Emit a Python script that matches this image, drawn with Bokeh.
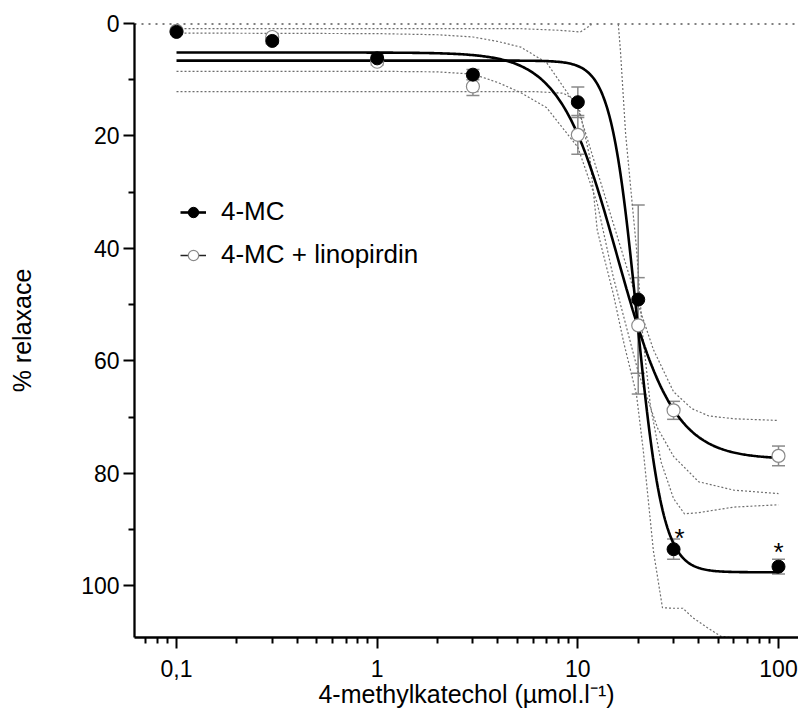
import numpy as np
from bokeh.plotting import figure
from bokeh.models import (Range1d, FixedTicker, ColumnDataSource, Whisker, TeeHead,
                          Legend, LegendItem, Span)
from bokeh.embed import file_html
from bokeh.resources import INLINE
from bokeh.core.properties import value

# ---------------- data ----------------
conc = [0.1, 0.3, 1, 3, 10, 20, 30, 100]
mc_mean = [1.5, 3.1, 6.2, 9.1, 14.0, 49.1, 93.5, 96.6]
mc_sem = [0.4, 0.5, 0.6, 0.9, 2.7, 16.8, 1.8, 1.3]
lin_mean = [1.3, 2.4, 6.8, 11.2, 19.8, 53.7, 68.8, 76.9]
lin_sem = [0.4, 0.5, 0.6, 1.6, 3.45, 8.5, 1.6, 1.75]

# four-parameter logistic fits: bottom, top, logEC50, Hill slope
mc_fit = [6.6, 97.6, 1.294, 6.7]
lin_fit = [5.16, 77.5, 1.196, 3.05]

# dotted 95 % confidence bands (traced)
mc_band_lo_x = [0.1, 1, 5, 8, 10.3, 11.6, 12.5, 15.4, 15.9, 16.3, 17.3, 18.6, 19.6, 21, 23, 26, 30, 34, 40, 60, 100]
mc_band_lo_y = [0.9, 0.9, 0.9, 1.2, 1.5, 0.3, -3, -3, 0, 4.8, 19.6, 31.5, 40, 55, 68, 78, 84.5, 87.2, 87, 86, 85.6]
mc_band_hi_x = [0.1, 3, 6, 8.5, 10, 11.5, 12.5, 15, 17, 19.6, 21.2, 23.8, 26.4, 30, 33.4, 37.5, 44.4, 51.6, 70, 100]
mc_band_hi_y = [12.1, 12.1, 12.1, 12.4, 14, 24, 36.8, 48, 57, 66, 76, 93.8, 103.9, 104, 104, 105.7, 107.5, 109, 109.5, 109.6]
lin_band_lo_x = [0.1, 1, 2, 3, 4, 5.2, 7, 10, 14, 20, 23.8, 30, 37, 45, 60, 100]
lin_band_lo_y = [1.7, 1.8, 2.0, 2.4, 3.2, 4.2, 7, 15, 32, 50, 58, 65.5, 68.5, 69.8, 70.3, 70.6]
lin_band_hi_x = [0.1, 1, 2, 3, 4, 5.2, 7, 10, 12.5, 15, 20, 25, 30, 40, 60, 100]
lin_band_hi_y = [8.5, 8.5, 8.6, 9.0, 10.5, 12.3, 15, 22, 32, 45, 62, 72, 77, 81.5, 83, 83.6]

star_x = [30, 100]
star_y = [90.0, 92.6]

x_ticks = [0.1, 1, 10, 100]
x_tick_labels = ["0,1", "1", "10", "100"]
x_minor = [0.07, 0.08, 0.09] + [m * d for d in (0.1, 1, 10) for m in range(2, 10)]
y_ticks = [0, 20, 40, 60, 80, 100]
y_minor = [10, 30, 50, 70, 90]

legend_labels = ["4-MC", "4-MC + linopirdin"]
x_title = "4-methylkatechol (µmol.l\u207b\u00b9)"
y_title = "% relaxace"


def logistic(x, params):
    b, t, logec, h = params
    x = np.asarray(x, dtype=float)
    return b + (t - b) / (1 + 10 ** ((logec - np.log10(x)) * h))


FONT = "Liberation Sans"

p = figure(width=798, height=718, x_axis_type="log",
           x_range=Range1d(0.06175, 125.8), y_range=Range1d(109.2, 0),
           output_backend="svg", toolbar_location=None,
           min_border_left=134, min_border_right=0, min_border_top=23, min_border_bottom=81)
p.outline_line_color = None
p.xgrid.visible = False
p.ygrid.visible = False
p.background_fill_color = "white"
p.border_fill_color = "white"

# axes
for ax in (p.xaxis[0], p.yaxis[0]):
    ax.axis_line_width = 2.3
    ax.axis_line_color = "black"
    ax.major_tick_line_width = 2
    ax.minor_tick_line_width = 2
    ax.major_tick_in = 0
    ax.minor_tick_in = 0
    ax.major_tick_out = 11
    ax.minor_tick_out = 6
    ax.major_label_text_font = FONT
    ax.major_label_text_font_size = "23px"
    ax.major_label_text_color = "black"
    ax.axis_label_text_font = FONT
    ax.axis_label_text_font_size = "25px"
    ax.axis_label_text_font_style = "normal"
    ax.axis_label_text_color = "black"

p.xaxis.ticker = FixedTicker(ticks=x_ticks, minor_ticks=x_minor)
p.xaxis.major_label_overrides = {t: l for t, l in zip(x_ticks, x_tick_labels)}
p.xaxis.major_label_standoff = 11
p.xaxis.axis_label = x_title
p.xaxis.axis_label_standoff = 0

p.yaxis.ticker = FixedTicker(ticks=y_ticks, minor_ticks=y_minor)
p.yaxis.major_label_standoff = 4
p.yaxis.axis_label = y_title
p.yaxis.axis_label_standoff = 42

# zero reference line
p.add_layout(Span(location=0, dimension="width", line_color="black",
                  line_width=2, line_dash="2 5", level="underlay"))

# confidence bands
band_kw = dict(line_color="#6e6e6e", line_width=1.2, line_dash="2 2")
for bx, by in ((mc_band_lo_x, mc_band_lo_y), (mc_band_hi_x, mc_band_hi_y),
               (lin_band_lo_x, lin_band_lo_y), (lin_band_hi_x, lin_band_hi_y)):
    p.line(bx, by, **band_kw)

# fitted curves
xs = np.logspace(-1, 2, 500)
mc_line = p.line(xs, logistic(xs, mc_fit), line_color="black", line_width=2.6)
lin_line = p.line(xs, logistic(xs, lin_fit), line_color="black", line_width=2.6)

# error bars
for mean, sem in ((lin_mean, lin_sem), (mc_mean, mc_sem)):
    src = ColumnDataSource(dict(base=conc,
                                upper=[m + s for m, s in zip(mean, sem)],
                                lower=[m - s for m, s in zip(mean, sem)]))
    p.add_layout(Whisker(source=src, base="base", upper="upper", lower="lower",
                         dimension="height", line_color="#8a8a8a", line_width=1.5,
                         upper_head=TeeHead(size=13, line_color="#8a8a8a", line_width=1.5),
                         lower_head=TeeHead(size=13, line_color="#8a8a8a", line_width=1.5),
                         level="underlay"))

# points
lin_pts = p.scatter(conc, lin_mean, size=13, marker="circle", fill_color="white",
                    line_color="#8a8a8a", line_width=1.2)
mc_pts = p.scatter(conc, mc_mean, size=13, marker="circle", fill_color="black",
                   line_color="black", line_width=1)

# significance stars
p.text(star_x, star_y, text=["*", "*"], text_font=value(FONT), text_font_size="26px",
       text_align="center", text_baseline="middle", text_color="black",
       x_offset=[6, 0], y_offset=[8, 8])

# legend line for the second item is thinner in the original
lin_leg_line = p.line([0.01, 0.02], [-50, -50], line_color="#222222", line_width=1.5)

leg = Legend(items=[LegendItem(label=legend_labels[0], renderers=[mc_line, mc_pts], index=0),
                    LegendItem(label=legend_labels[1], renderers=[lin_leg_line, lin_pts], index=0)],
             location=(46, 367), orientation="vertical",
             glyph_width=26, glyph_height=30, label_height=30, spacing=12,
             label_standoff=15, padding=0, margin=0,
             border_line_color=None, background_fill_alpha=0,
             label_text_font=FONT, label_text_font_size="26px", label_text_color="black")
p.add_layout(leg)

open("out.html", "w").write(file_html(p, INLINE))
